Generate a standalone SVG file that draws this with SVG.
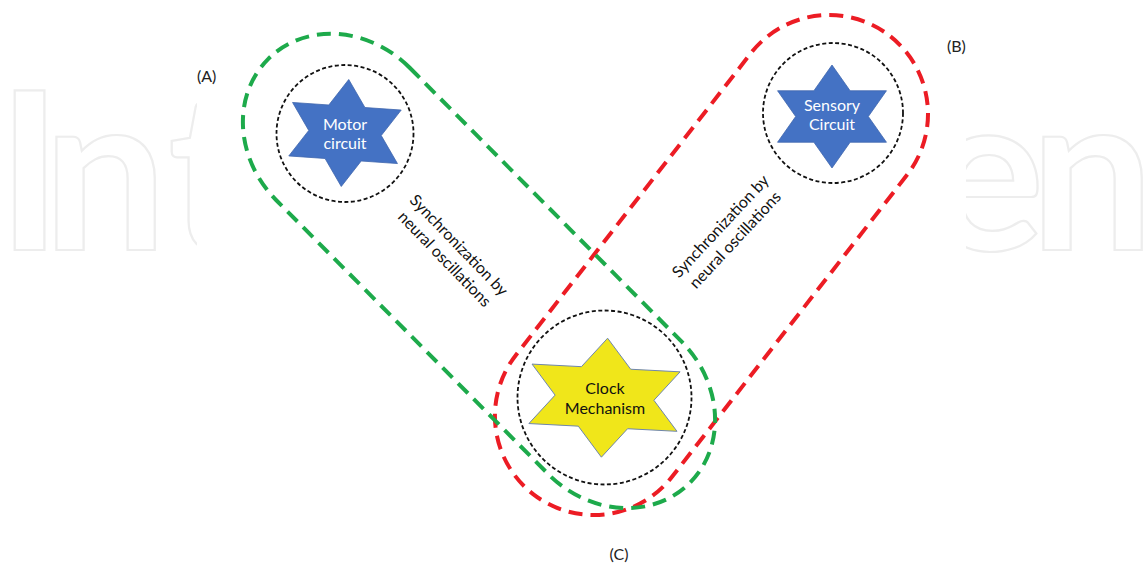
<svg xmlns="http://www.w3.org/2000/svg" width="1145" height="563" viewBox="0 0 1145 563">
  <style>
    .wm { font-family: Lato, "Liberation Sans", sans-serif; font-weight: 700; font-size: 220px; fill: none; stroke: #ededed; stroke-width: 2.2; }
    .loop { fill: none; stroke-width: 4; stroke-dasharray: 14 8; }
    .green { stroke: #1daa4b; }
    .red { stroke: #ec1c24; }
    .ring { fill: none; stroke: #111; stroke-width: 1.8; stroke-dasharray: 4 2.5; }
    .blue { fill: #4472c4; stroke: #3f66ad; stroke-width: 0.8; }
    .yellow { fill: #f0e61a; stroke: #6f86ad; stroke-width: 1; }
    .lbl { font-family: Lato, "Liberation Sans", sans-serif; font-size: 16px; text-anchor: middle; }
    .wt { fill: #ffffff; }
    .bk { fill: #111111; }
    .tag { font-family: Lato, "Liberation Sans", sans-serif; font-size: 16px; fill: #222; }
  </style>
  <defs>
    <path id="star" vector-effect="non-scaling-stroke" d="M0,-55 L18.3,-27.5 L55,-27.5 L36.7,0 L55,27.5 L18.3,27.5 L0,55 L-18.3,27.5 L-55,27.5 L-36.7,0 L-55,-27.5 L-18.3,-27.5 Z"/>
    <clipPath id="wmclip">
      <rect x="0" y="0" width="197" height="563"/>
      <rect x="966" y="0" width="179" height="563"/>
    </clipPath>
  </defs>
  <rect x="0" y="0" width="1145" height="563" fill="#ffffff"/>

  <g id="watermark" clip-path="url(#wmclip)">
    <text class="wm" y="250"><tspan x="-3">I</tspan><tspan x="43">n</tspan><tspan x="168">t</tspan></text>
    <text class="wm" y="250"><tspan x="927">e</tspan><tspan x="1030">n</tspan></text>
  </g>

  <g id="connectors">
    <path class="loop red" transform="translate(829,114) rotate(127.9)" d="M0,-99 L382.7,-99 A99 99 0 0 1 382.7,99 L0,99 A99 99 0 0 1 0,-99 Z"/>
    <path class="loop green" transform="translate(343,134) rotate(45.2)" d="M0,-94 L386,-94 A106 94 0 0 1 386,94 L0,94 A106 94 0 0 1 0,-94 Z"/>
  </g>

  <g id="motor">
    <circle class="ring" cx="345" cy="133.5" r="68.5"/>
    <use href="#star" class="blue" transform="translate(345,133) rotate(4) scale(0.99,0.975)"/>
    <text class="lbl wt"><tspan x="345" y="129.5">Motor</tspan><tspan x="345" y="149">circuit</tspan></text>
  </g>

  <g id="sensory">
    <circle class="ring" cx="833" cy="113" r="70"/>
    <use href="#star" class="blue" transform="translate(832,116.5) scale(0.99,0.936)"/>
    <text class="lbl wt"><tspan x="832" y="111">Sensory</tspan><tspan x="832" y="130">Circuit</tspan></text>
  </g>

  <g id="clock">
    <circle class="ring" cx="604.5" cy="397.5" r="87"/>
    <use href="#star" class="yellow" transform="translate(604.5,397.7) rotate(3) scale(1.348,1.083)"/>
    <text class="lbl bk"><tspan x="605" y="394">Clock</tspan><tspan x="605" y="414">Mechanism</tspan></text>
  </g>

  <g id="labels">
    <text class="lbl bk" transform="translate(455,249) rotate(46)"><tspan x="0" y="0">Synchronization by</tspan><tspan x="0" y="20">neural oscillations</tspan></text>
    <text class="lbl bk" transform="translate(724.5,230) rotate(-47)"><tspan x="0" y="0">Synchronization by</tspan><tspan x="0" y="20">neural oscillations</tspan></text>
    <text class="tag" x="197" y="82">(A)</text>
    <text class="tag" x="947" y="52">(B)</text>
    <text class="tag" x="619" y="560" text-anchor="middle">(C)</text>
  </g>
</svg>
